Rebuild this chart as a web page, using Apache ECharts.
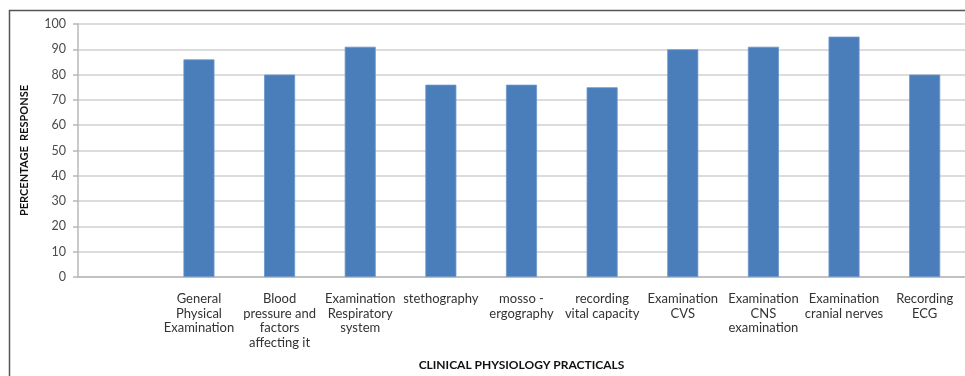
<!DOCTYPE html>
<html>
<head>
<meta charset="utf-8">
<script src="https://cdn.jsdelivr.net/npm/echarts@6/dist/echarts.min.js"></script>
<style>
  html, body { margin: 0; padding: 0; background: #fff; }
  #chart { width: 965px; height: 376px; }
</style>
</head>
<body>
<div id="chart"></div>
<script>
// Practical categories (the first slot is left blank on the axis)
const categories = [
  "",
  "General\nPhysical\nExamination",
  "Blood\npressure and\nfactors\naffecting it",
  "Examination\nRespiratory\nsystem",
  "stethography",
  "mosso -\nergography",
  "recording\nvital capacity",
  "Examination\nCVS",
  "Examination\nCNS\nexamination",
  "Examination\ncranial nerves",
  "Recording\nECG"
];
// Percentage response per practical
const responses = [null, 86, 80, 91, 76, 76, 75, 90, 91, 95, 80];
// Value axis ticks
const yMin = 0, yMax = 100, yStep = 10;

const chart = echarts.init(document.getElementById('chart'), null, { renderer: 'canvas' });
const font = 'Lato, "Open Sans", "Liberation Sans", sans-serif';

chart.setOption({
  animation: false,
  backgroundColor: '#ffffff',
  grid: { left: 78, right: 0, top: 24, bottom: 98, containLabel: false },
  graphic: [{
    type: 'rect',
    shape: { x: 9.5, y: 10.5, width: 1000, height: 400 },
    style: { fill: 'none', stroke: '#555555', lineWidth: 1.5 },
    silent: true,
    z: -1
  }],
  xAxis: {
    type: 'category',
    data: categories,
    name: 'CLINICAL PHYSIOLOGY PRACTICALS',
    nameLocation: 'middle',
    nameGap: 88,
    nameTextStyle: { fontFamily: font, fontWeight: 'bold', fontSize: 12, color: '#111', verticalAlign: 'middle' },
    axisLine: { lineStyle: { color: '#b8b8b8', width: 1.5 } },
    axisTick: { show: false },
    axisLabel: { interval: 0, margin: 15, fontFamily: font, fontSize: 13, lineHeight: 14.5, color: '#333' }
  },
  yAxis: {
    type: 'value',
    min: yMin, max: yMax, interval: yStep,
    name: 'PERCENTAGE  RESPONSE',
    nameLocation: 'middle',
    nameRotate: 90,
    nameGap: 48,
    nameTextStyle: { fontFamily: font, fontWeight: 'bold', fontSize: 11, color: '#111' },
    axisLine: { show: true, lineStyle: { color: '#b8b8b8', width: 1.5 } },
    axisTick: { show: true, length: 5, lineStyle: { color: '#b8b8b8', width: 1.5 } },
    axisLabel: { margin: 12, fontFamily: font, fontSize: 12.5, color: '#4a4a4a' },
    splitLine: { lineStyle: { color: '#d0d0d0', width: 1.5 } }
  },
  series: [{
    type: 'bar',
    data: responses,
    barWidth: 31,
    itemStyle: { color: '#4a7ebb', borderColor: '#6a96cc', borderWidth: 0.8 }
  }]
});
</script>
</body>
</html>
